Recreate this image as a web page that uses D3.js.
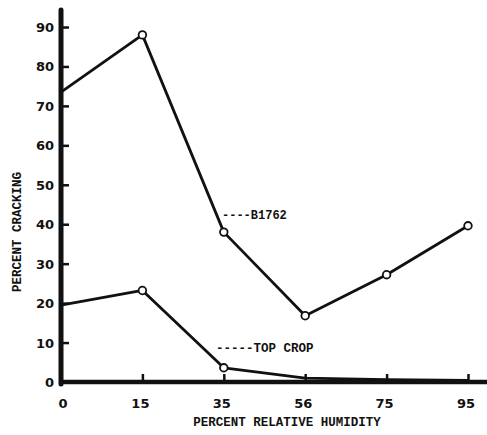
<!DOCTYPE html>
<html><head><meta charset="utf-8">
<script src="https://cdn.jsdelivr.net/npm/d3@7"></script>
<style>body{margin:0;background:#fff}svg{display:block}</style>
</head><body>
<script>
const humidity = ["0","15","35","56","75","95"];
const b1762 = [73.5, 88, 38, 16.8, 27.2, 39.6];
const topCrop = [19.5, 23.2, 3.6, 1.0, 0.6, 0.4];
const topCropMarked = [true, true, true, false, false, false];
const yTicks = [0,10,20,30,40,50,60,70,80,90];

const W = 487, H = 435;
const svg = d3.select("body").append("svg").attr("width", W).attr("height", H);
const x = d3.scalePoint().domain(humidity).range([61, 468]);
const y = d3.scaleLinear().domain([0, 90]).range([382, 27]);
const ink = "#111";
const numFont = "'DejaVu Sans', sans-serif";
const monoFont = "'Liberation Mono', 'DejaVu Sans Mono', monospace";

// Axes
const xAxis = d3.axisTop(x).tickSize(8).tickFormat("");
const gx = svg.append("g").attr("transform", `translate(0,${y(0)})`).call(xAxis);
gx.select(".domain").remove();
gx.selectAll(".tick line").attr("stroke", ink).attr("stroke-width", 2.5);
gx.selectAll(".tick").filter(d => d === "0").remove();

const yAxis = d3.axisRight(y).tickValues(yTicks).tickSize(8).tickFormat("");
const gy = svg.append("g").attr("transform", `translate(${x("0")},0)`).call(yAxis);
gy.select(".domain").remove();
gy.selectAll(".tick line").attr("stroke", ink).attr("stroke-width", 2.5);
gy.selectAll(".tick").filter(d => d === 0).remove();

// axis lines
svg.append("line").attr("x1", x("0")).attr("x2", 487).attr("y1", y(0)).attr("y2", y(0))
  .attr("stroke", ink).attr("stroke-width", 4.5);
svg.append("line").attr("x1", x("0")).attr("x2", x("0")).attr("y1", 10).attr("y2", y(0) + 2)
  .attr("stroke", ink).attr("stroke-width", 5).attr("stroke-linecap", "round");

// tick labels
svg.selectAll(".yl").data(yTicks).join("text")
  .attr("x", 54).attr("y", d => y(d) + 5).attr("text-anchor", "end")
  .attr("font-family", numFont).attr("font-weight", "bold").attr("font-size", 13)
  .attr("fill", ink).text(d => d);
svg.selectAll(".xl").data(humidity).join("text")
  .attr("x", d => x(d) + (d === "0" ? 2 : -2)).attr("y", 408).attr("text-anchor", "middle")
  .attr("font-family", numFont).attr("font-weight", "bold").attr("font-size", 13)
  .attr("fill", ink).text(d => d);

// titles
svg.append("text").attr("x", 287).attr("y", 426).attr("text-anchor", "middle")
  .attr("font-family", monoFont).attr("font-weight", "bold").attr("font-size", 12.5)
  .attr("fill", ink).text("PERCENT RELATIVE HUMIDITY");
svg.append("text").attr("transform", "translate(21,232) rotate(-90)").attr("text-anchor", "middle")
  .attr("font-family", monoFont).attr("font-weight", "bold").attr("font-size", 12.5)
  .attr("fill", ink).text("PERCENT CRACKING");

// lines
const line = d3.line().x((d, i) => x(humidity[i])).y(d => y(d));
[b1762, topCrop].forEach(s => {
  svg.append("path").datum(s).attr("d", line).attr("fill", "none")
    .attr("stroke", ink).attr("stroke-width", 2.8).attr("stroke-linejoin", "round");
});

// markers
svg.selectAll(".mb").data(b1762.slice(1)).join("circle")
  .attr("cx", (d, i) => x(humidity[i + 1])).attr("cy", d => y(d)).attr("r", 3.8)
  .attr("fill", "#fff").attr("stroke", ink).attr("stroke-width", 1.8);
svg.selectAll(".mt").data(topCrop.map((v, i) => ({v, i})).filter(d => d.i > 0 && topCropMarked[d.i])).join("circle")
  .attr("cx", d => x(humidity[d.i])).attr("cy", d => y(d.v)).attr("r", 3.8)
  .attr("fill", "#fff").attr("stroke", ink).attr("stroke-width", 1.8);

// series labels
svg.append("text").attr("x", 222).attr("y", 219)
  .attr("font-family", monoFont).attr("font-weight", "bold").attr("font-size", 12)
  .attr("fill", ink).text("----B1762");
svg.append("text").attr("x", 216).attr("y", 352)
  .attr("font-family", monoFont).attr("font-weight", "bold").attr("font-size", 12.5)
  .attr("fill", ink).text("-----TOP CROP");
</script>
</body></html>
